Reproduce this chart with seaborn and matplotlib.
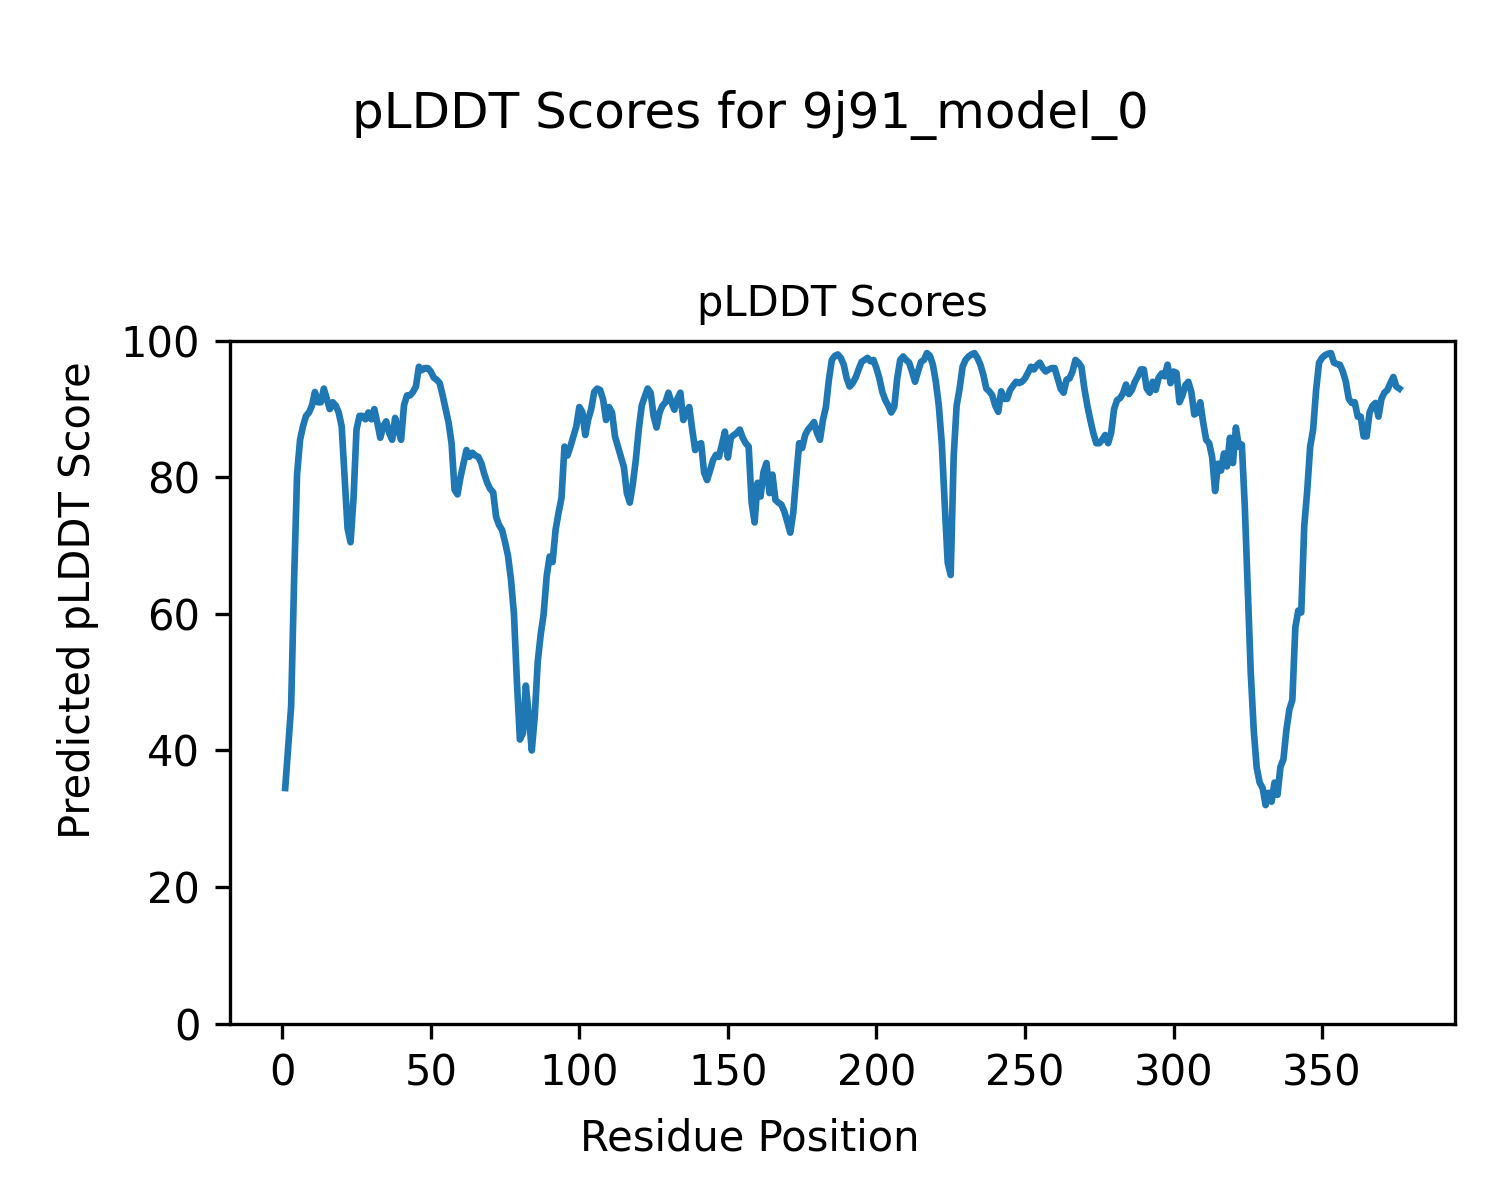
import numpy as np
import pandas as pd
import seaborn as sns
import matplotlib
matplotlib.use("Agg")
import matplotlib.pyplot as plt


model_name = "9j91_model_0"

# per-residue pLDDT (residue 1..376)
plddt = [
    34.5, 40.5, 46.5, 65, 80.5, 85.5, 87.5, 89, 89.5, 90.5,
    92.5, 91, 91, 93, 91.5, 90, 91, 90.5, 89.5, 87.5,
    80, 72.5, 70.5, 77, 87, 89, 89, 88.5, 89.5, 88.5,
    90, 88, 85.8, 87.5, 88.2, 86.5, 85.5, 88.7, 87, 85.5,
    90.6, 92, 92, 92.5, 93.3, 96.2, 95.7, 96, 96, 95.5,
    94.6, 94.3, 93.8, 92, 90, 88, 85, 78.2, 77.5, 80,
    82, 84, 83, 83.6, 83.2, 83, 82.1, 80.5, 79.2, 78.3,
    77.8, 74.2, 73, 72.3, 70.5, 68.5, 65, 60, 50, 41.6,
    42.5, 49.5, 45, 40, 45, 53, 57, 60, 65.5, 68.4,
    67.6, 72.3, 74.8, 77, 84.5, 83.2, 84.5, 86, 87.5, 90.3,
    89.6, 86.2, 88.5, 90, 92.5, 93, 92.8, 91.4, 88.4, 90.3,
    89.5, 86, 84.5, 83, 81.5, 77.7, 76.3, 79, 82.5, 87,
    90.5, 91.8, 93, 92.4, 89, 87.3, 89.5, 90.5, 91, 92.4,
    91, 89.9, 91.5, 92.4, 88.4, 89.5, 90.3, 87, 84, 84.8,
    85, 80.7, 79.6, 81, 82.5, 83.3, 83, 84.8, 86.7, 82.9,
    85.8, 86.2, 86.5, 87, 85.8, 85, 84.5, 76.3, 73.4, 79.2,
    77.2, 80.8, 82.1, 77.7, 80.4, 76.7, 76.3, 76, 75, 73.5,
    71.9, 74.8, 80, 85, 84.3, 86.2, 87, 87.5, 88.1, 86.5,
    85.5, 88.4, 90.3, 94.3, 97.2, 97.8, 98, 97.5, 96.5, 94.5,
    93.3, 93.8, 94.6, 95.8, 96.9, 97.2, 97.5, 97, 97.2, 96,
    94.5, 92.5, 91.3, 90.5, 89.5, 90.3, 94.5, 97.2, 97.7, 97.2,
    96.8, 95.5, 94, 95.5, 96.9, 97.2, 98.2, 97.8, 96.5, 94,
    90.5, 85, 76, 67.5, 65.7, 83, 90.5, 93, 96.2, 97.2,
    97.7, 98, 98.2, 97.5, 96.5, 95, 93, 92.6, 92, 90.5,
    89.6, 92.6, 91.5, 91.5, 92.8, 93.4, 94, 93.8, 94, 94.5,
    95.3, 96.2, 95.8, 96.4, 96.8, 96, 95.5, 95.8, 96, 96,
    94.5, 93, 92.4, 94.3, 94.5, 95.5, 97.2, 96.8, 96.2, 93,
    90.5, 88.4, 86.5, 85, 85, 85.5, 86.2, 85, 86.5, 90,
    91.3, 91.6, 92.3, 93.6, 92.2, 92.8, 94, 94.8, 95.8, 95.8,
    93, 92.4, 94, 92.8, 94.6, 95.2, 94.8, 96.5, 93.8, 95.5,
    95.3, 91, 92, 93.5, 94, 92.5, 89.2, 89.5, 91, 88,
    85.5, 85, 83, 78, 82, 81, 83.5, 81.6, 85.8, 82.1,
    87.3, 84.5, 84.8, 75.7, 63.5, 51.4, 43, 37.5, 35.3, 34.5,
    32, 33.8, 32.5, 35.3, 33.5, 37.6, 38.7, 43, 46, 47.4,
    58, 60.5, 60.2, 72.8, 78, 84.5, 87, 92.8, 96.8, 97.5,
    97.9, 98.1, 98.2, 96.8, 96.6, 96.5, 95.5, 94, 91.5, 90.9,
    91, 88.9, 88.9, 86, 86, 89.5, 90.5, 90.9, 88.9, 91.5,
    92.4, 92.8, 93.8, 94.7, 93.3, 93,
]
residues = np.arange(1, len(plddt) + 1)

df = pd.DataFrame({"Residue": residues, "pLDDT": plddt})

fig, ax = plt.subplots(figsize=(5, 4), dpi=300)
sns.lineplot(data=df, x="Residue", y="pLDDT", ax=ax, color="#1f77b4", linewidth=1.6)

ax.set_ylim(0, 100)
ax.set_title("pLDDT Scores", fontsize=10)
ax.set_xlabel("")
ax.set_ylabel("")
fig.supxlabel("Residue Position", fontsize=10, y=0.0515, va="center")
fig.supylabel("Predicted pLDDT Score", fontsize=10, x=0.052, ha="center")
fig.suptitle(f"pLDDT Scores for {model_name}", fontsize=12, y=0.925)

plt.subplots_adjust(left=0.153, right=0.97, bottom=0.147, top=0.716)
plt.savefig("out.png", dpi=300)
